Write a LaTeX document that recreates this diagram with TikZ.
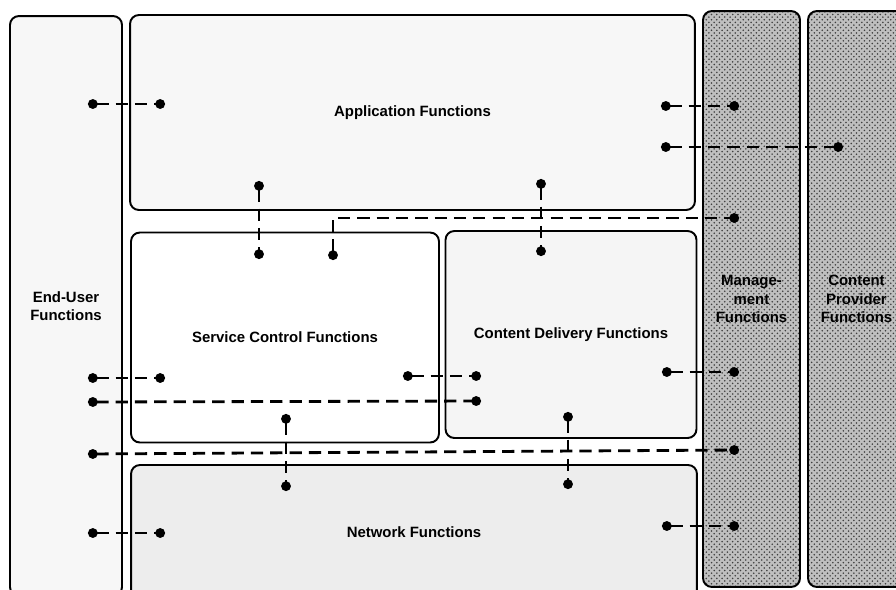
\documentclass[tikz,border=0pt]{standalone}
\usepackage{fontspec}
\setmainfont{Liberation Sans}
\usepackage{tikz}
\usetikzlibrary{arrows.meta,patterns}

\newcommand{\lbl}{\fontsize{8.5}{10.5}\selectfont\bfseries}
\tikzset{
  blk/.style={draw, line width=1.1pt, rounded corners=5pt, font=\lbl, align=center, inner sep=0pt},
  lnk/.style={{Circle[length=5.5pt]}-{Circle[length=5.5pt]}, dashed, dash pattern=on 7pt off 4pt, line width=1.6pt},
  hatch/.style={preaction={fill=gray!50}, pattern=crosshatch dots, pattern color=black!75},
}

\begin{document}
\begin{tikzpicture}[x=0.02cm, y=-0.02cm]
\useasboundingbox (0,0) rectangle (896,589);
\clip (0,0) rectangle (896,589);
% блоки
\node[blk, fill=gray!6, minimum width=2.24cm, minimum height=11.6cm] (user) at (66,306) {End-User\\Functions};
\node[blk, fill=gray!6, minimum width=11.3cm, minimum height=3.9cm] (app) at (412.5,112.5) {Application Functions};
\node[blk, fill=white, minimum width=6.16cm, minimum height=4.2cm] (ctrl) at (285,337.5) {Service Control Functions};
\node[blk, fill=gray!8, minimum width=5.02cm, minimum height=4.14cm] (cdf) at (571,334.5) {Content Delivery Functions};
\node[blk, fill=gray!14, minimum width=11.32cm, minimum height=2.7cm] (net) at (414,532.5) {Network Functions};
\node[blk, hatch, minimum width=1.94cm, minimum height=11.52cm] (mgmt) at (751.5,299) {Manage-\\ment\\Functions};
\node[blk, hatch, minimum width=1.94cm, minimum height=11.52cm] (prov) at (856.5,299) {Content\\Provider\\Functions};
% концы связей
\coordinate (ua1) at (88,104);  \coordinate (ua2) at (165,104);
\coordinate (am1) at (661,106); \coordinate (am2) at (739,106);
\coordinate (ap1) at (661,147); \coordinate (ap2) at (843,147);
\coordinate (ac1) at (259,181); \coordinate (ac2) at (259,259);
\coordinate (ad1) at (541,179); \coordinate (ad2) at (541,256);
\coordinate (cm1) at (333,260); \coordinate (cm2) at (739,218);
\coordinate (uc1) at (88,378);  \coordinate (uc2) at (165,378);
\coordinate (cd1) at (403,376); \coordinate (cd2) at (481,376);
\coordinate (ud1) at (88,402);  \coordinate (ud2) at (481,401);
\coordinate (dm1) at (662,372); \coordinate (dm2) at (739,372);
\coordinate (um1) at (88,454);  \coordinate (um2) at (739,450);
\coordinate (cn1) at (286,414); \coordinate (cn2) at (286,491);
\coordinate (dn1) at (568,412); \coordinate (dn2) at (568,489);
\coordinate (un1) at (88,533);  \coordinate (un2) at (165,533);
\coordinate (nm1) at (662,526); \coordinate (nm2) at (739,526);
% связи
\draw[lnk] (ua1) -- (ua2);
\draw[lnk] (am1) -- (am2);
\draw[lnk] (ap1) -- (ap2);
\draw[lnk] (ac1) -- (ac2);
\draw[lnk] (ad1) -- (ad2);
\draw[lnk] (cm1) |- (cm2);
\draw[lnk] (uc1) -- (uc2);
\draw[lnk] (cd1) -- (cd2);
\draw[lnk] (ud1) -- (ud2);
\draw[lnk] (dm1) -- (dm2);
\draw[lnk] (um1) -- (um2);
\draw[lnk] (cn1) -- (cn2);
\draw[lnk] (dn1) -- (dn2);
\draw[lnk] (un1) -- (un2);
\draw[lnk] (nm1) -- (nm2);
\end{tikzpicture}
\end{document}
